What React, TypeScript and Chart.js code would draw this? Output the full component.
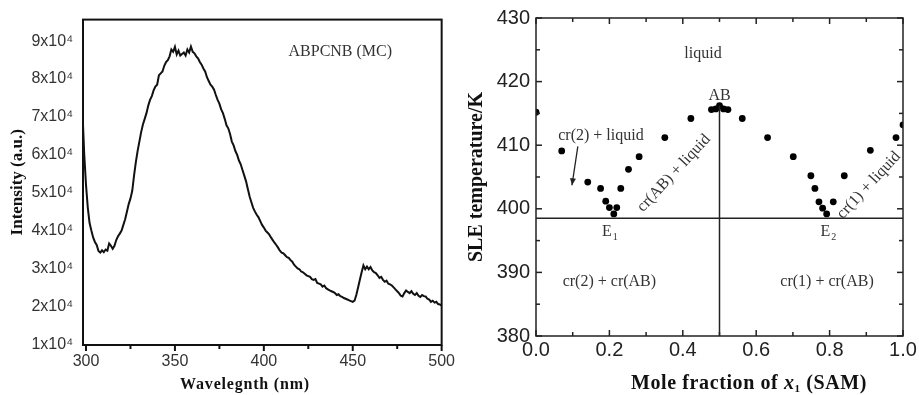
import React, { useEffect, useRef } from "react";
import { Chart, registerables } from "chart.js";

Chart.register(...registerables);

const SERIF = "'Liberation Serif', 'Times New Roman', serif";
const SANS = "'Liberation Sans', Arial, sans-serif";

// ---------- Left panel: emission spectrum ----------
const wavelengthNm = [
  298.3, 299, 300, 301, 302, 303, 304, 305, 306, 307, 308, 309, 310, 311, 312, 313, 314, 315, 316, 317, 318, 319,
  320, 321, 322, 323, 324, 325, 326, 327, 328, 329, 330, 331, 332, 333, 334, 335, 336, 337, 338, 339,
  340, 341, 342, 343, 344, 345, 346, 347, 348, 349, 350, 351, 352, 353, 354, 355, 356, 357, 358, 359,
  360, 361, 362, 363, 364, 365, 366, 367, 368, 369, 370, 371, 372, 373, 374, 375, 376, 377, 378, 379,
  380, 381, 382, 383, 384, 385, 386, 387, 388, 389, 390, 391, 392, 393, 394, 395, 396, 397, 398, 399,
  400, 401, 402, 403, 404, 405, 406, 407, 408, 409, 410, 411, 412, 413, 414, 415, 416, 417, 418, 419,
  420, 421, 422, 423, 424, 425, 426, 427, 428, 429, 430, 431, 432, 433, 434, 435, 436, 437, 438, 439,
  440, 441, 442, 443, 444, 445, 446, 447, 448, 449, 450, 451, 452, 453, 454, 455, 456, 457, 458, 459,
  460, 461, 462, 463, 464, 465, 466, 467, 468, 469, 470, 471, 472, 473, 474, 475, 476, 477, 478, 479,
  480, 481, 482, 483, 484, 485, 486, 487, 488, 489, 490, 491, 492, 493, 494, 495, 496, 497, 498, 499, 500,
];
const intensityAU = [
  68000, 60000, 52000, 46000, 42000, 40000, 38200, 37000, 36200, 34600, 34200, 34800, 34300, 35000, 34700, 36600, 36000, 35200, 36000, 37500, 38500, 39200,
  40000, 41500, 43000, 45000, 47000, 48500, 50500, 54500, 58000, 61000, 63500, 66000, 68000, 69500, 71000, 73000, 74500, 75500, 77000, 78000,
  78500, 81000, 81500, 82000, 83500, 84500, 85000, 86000, 87800, 87200, 88500, 86500, 87500, 86200, 86600, 87000, 86200, 87800, 87000, 88600,
  87200, 86800, 86000, 85500, 84500, 83800, 82800, 82000, 80500, 79500, 78500, 78000, 77200, 75800, 74500, 73500, 72000, 71000, 69500, 67800,
  67000, 65500, 63500, 62500, 61000, 60000, 58500, 57500, 56000, 54500, 53000, 51000, 49000, 47500, 46000, 45000, 44200, 43500, 42500, 41500,
  40800, 40000, 39500, 39000, 38200, 37500, 36800, 36200, 35500, 34700, 34200, 34000, 33500, 33000, 32800, 32200, 31800, 31000, 30500, 30000,
  29800, 29200, 29000, 28600, 28200, 28000, 27800, 27200, 27000, 27200, 26200, 26000, 25800, 25200, 25500, 24800, 24500, 24200, 24000, 23800,
  23500, 23000, 23200, 22700, 22500, 22200, 22000, 21800, 21600, 21400, 21200, 21500, 23000, 25000, 27000, 29000, 30800, 29800, 30500, 29800,
  30400, 29500, 29000, 28800, 28200, 27500, 27800, 27000, 26500, 26800, 26000, 25800, 25500, 25000, 24500, 24000, 23500, 22800, 22600, 23500,
  24200, 23800, 23500, 24000, 23300, 23000, 23500, 22800, 22500, 23000, 22700, 22600, 22000, 21800, 21200, 21500, 21000, 21200, 20600, 20500, 20200,
];
const intensityTicks = [10000, 20000, 30000, 40000, 50000, 60000, 70000, 80000, 90000];
const wavelengthTicks = [300, 350, 400, 450, 500];
const wavelengthMinorTicks = [325, 375, 425, 475];
const spectrumLabel = { text: "ABPCNB (MC)", x: 443, y: 87300 };

// ---------- Right panel: SLE phase diagram ----------
const moleFraction = [
  0.0, 0.07, 0.141, 0.176, 0.19, 0.2, 0.212, 0.22, 0.231, 0.252, 0.281, 0.351, 0.422,
  0.478, 0.49, 0.5, 0.511, 0.523,
  0.562, 0.631, 0.701, 0.749, 0.76, 0.771, 0.781, 0.792, 0.81, 0.84, 0.911, 0.981, 1.0,
];
const sleTemperature = [
  415.2, 409.1, 404.2, 403.2, 401.2, 400.2, 399.2, 400.2, 403.2, 406.2, 408.2, 411.2, 414.2,
  415.6, 415.7, 416.2, 415.7, 415.6,
  414.2, 411.2, 408.2, 405.2, 403.2, 401.1, 400.1, 399.2, 401.1, 405.2, 409.2, 411.2, 413.2,
];
const eutecticLineX = [0, 1];
const eutecticLineT = [398.5, 398.5];
const compoundLineX = [0.5, 0.5];
const compoundLineT = [380, 416.2];
const arrowX = [0.114, 0.098];
const arrowT = [409.8, 403.7];
const moleTicks = [0, 0.2, 0.4, 0.6, 0.8, 1.0];
const moleMinorTicks = [0.1, 0.3, 0.5, 0.7, 0.9];
const tempTicks = [380, 390, 400, 410, 420, 430];
const tempMinorTicks = [385, 395, 405, 415, 425];
const regionLabels = [
  { text: "liquid", x: 0.455, y: 424.4 },
  { text: "AB", x: 0.5, y: 417.8 },
  { text: "cr(2) + liquid", x: 0.177, y: 411.4 },
  { text: "cr(AB) + liquid", x: 0.376, y: 405.6, angle: -47 },
  { text: "cr(1) + liquid", x: 0.907, y: 403.7, angle: -47 },
  { text: "E", sub: "1", x: 0.2, y: 396.4 },
  { text: "E", sub: "2", x: 0.795, y: 396.4 },
  { text: "cr(2) + cr(AB)", x: 0.2, y: 388.6 },
  { text: "cr(1) + cr(AB)", x: 0.793, y: 388.6 },
];

const pts = (xs: number[], ys: number[]) => xs.map((x, i) => ({ x, y: ys[i] }));

const framePlugin = {
  id: "frame",
  afterDatasetsDraw(chart: any, _args: any, opts: any) {
    const { ctx, chartArea: a, scales } = chart;
    const xs = scales.x;
    const ys = scales.y;
    ctx.save();
    ctx.strokeStyle = opts.color;
    ctx.lineWidth = opts.lineWidth;
    ctx.strokeRect(a.left, a.top, a.right - a.left, a.bottom - a.top);
    const dir = opts.inward ? -1 : 1;
    const sides: string[] = opts.sides;
    const seg = (x1: number, y1: number, x2: number, y2: number) => {
      ctx.beginPath();
      ctx.moveTo(x1, y1);
      ctx.lineTo(x2, y2);
      ctx.stroke();
    };
    const drawX = (vals: number[], len: number) =>
      vals.forEach((v) => {
        const px = xs.getPixelForValue(v);
        if (sides.includes("bottom")) seg(px, a.bottom, px, a.bottom + dir * len);
        if (sides.includes("top")) seg(px, a.top, px, a.top - dir * len);
      });
    const drawY = (vals: number[], len: number) =>
      vals.forEach((v) => {
        const py = ys.getPixelForValue(v);
        if (sides.includes("left")) seg(a.left, py, a.left - dir * len, py);
        if (sides.includes("right")) seg(a.right, py, a.right + dir * len, py);
      });
    drawX(opts.xMajor || [], opts.majorLen);
    drawX(opts.xMinor || [], opts.minorLen);
    drawY(opts.yMajor || [], opts.majorLen);
    drawY(opts.yMinor || [], opts.minorLen);
    ctx.restore();
  },
};

const notesPlugin = {
  id: "notes",
  afterDatasetsDraw(chart: any, _args: any, opts: any) {
    const { ctx, scales } = chart;
    const size = opts.size;
    (opts.items || []).forEach((n: any) => {
      const x = scales.x.getPixelForValue(n.x);
      const y = scales.y.getPixelForValue(n.y);
      ctx.save();
      ctx.translate(x, y);
      if (n.angle) ctx.rotate((n.angle * Math.PI) / 180);
      ctx.fillStyle = opts.color;
      ctx.textBaseline = "middle";
      const mainFont = `${size}px ${SERIF}`;
      const subFont = `${Math.round(size * 0.62)}px ${SERIF}`;
      if (n.sub) {
        ctx.font = mainFont;
        const w1 = ctx.measureText(n.text).width;
        ctx.font = subFont;
        const w2 = ctx.measureText(n.sub).width;
        const start = -(w1 + w2) / 2;
        ctx.textAlign = "left";
        ctx.font = mainFont;
        ctx.fillText(n.text, start, 0);
        ctx.font = subFont;
        ctx.fillText(n.sub, start + w1 + 1, size * 0.35);
      } else {
        ctx.font = mainFont;
        ctx.textAlign = "center";
        ctx.fillText(n.text, 0, 0);
      }
      ctx.restore();
    });
  },
};

const arrowPlugin = {
  id: "arrowHead",
  afterDatasetsDraw(chart: any, _args: any, opts: any) {
    if (!opts.from) return;
    const { ctx, scales } = chart;
    const x1 = scales.x.getPixelForValue(opts.from[0]);
    const y1 = scales.y.getPixelForValue(opts.from[1]);
    const x2 = scales.x.getPixelForValue(opts.to[0]);
    const y2 = scales.y.getPixelForValue(opts.to[1]);
    const ang = Math.atan2(y2 - y1, x2 - x1);
    const L = 7;
    const W = 3;
    ctx.save();
    ctx.fillStyle = opts.color;
    ctx.beginPath();
    ctx.moveTo(x2, y2);
    ctx.lineTo(x2 - L * Math.cos(ang) + W * Math.sin(ang), y2 - L * Math.sin(ang) - W * Math.cos(ang));
    ctx.lineTo(x2 - L * Math.cos(ang) - W * Math.sin(ang), y2 - L * Math.sin(ang) + W * Math.cos(ang));
    ctx.closePath();
    ctx.fill();
    ctx.restore();
  },
};

const richTitlePlugin = {
  id: "richTitle",
  afterDraw(chart: any, _args: any, opts: any) {
    if (!opts.segments) return;
    const { ctx } = chart;
    ctx.save();
    ctx.fillStyle = opts.color;
    ctx.textBaseline = "middle";
    ctx.textAlign = "left";
    (ctx as any).letterSpacing = `${opts.spacing || 0}px`;
    const fontOf = (s: any) => `${s.italic ? "italic " : ""}bold ${s.size || opts.size}px ${SERIF}`;
    let total = 0;
    const widths = opts.segments.map((s: any) => {
      ctx.font = fontOf(s);
      const w = ctx.measureText(s.text).width;
      total += w;
      return w;
    });
    let x = opts.cx - total / 2;
    opts.segments.forEach((s: any, i: number) => {
      ctx.font = fontOf(s);
      ctx.fillText(s.text, x, opts.cy + (s.dy || 0));
      x += widths[i];
    });
    ctx.restore();
  },
};

function SpectrumChart() {
  const ref = useRef<HTMLCanvasElement | null>(null);
  useEffect(() => {
    if (!ref.current) return;
    const chart = new Chart(ref.current, {
      type: "line",
      data: {
        datasets: [
          {
            data: pts(wavelengthNm, intensityAU),
            borderColor: "#111",
            borderWidth: 2,
            pointRadius: 0,
            tension: 0,
            fill: false,
            clip: 0,
          } as any,
        ],
      },
      options: {
        animation: false,
        responsive: false,
        maintainAspectRatio: false,
        layout: { padding: { top: 17, right: 15, left: 0, bottom: 0 } },
        plugins: {
          legend: { display: false },
          tooltip: { enabled: false },
          frame: {
            color: "#111",
            lineWidth: 2,
            inward: false,
            sides: ["bottom"],
            xMajor: wavelengthTicks,
            xMinor: wavelengthMinorTicks,
            majorLen: 6,
            minorLen: 4,
          },
          notes: {
            size: 16,
            color: "#333",
            items: [spectrumLabel],
          },
          richTitle: {
            cx: 245,
            cy: 385,
            size: 16,
            spacing: 0.8,
            color: "#111",
            segments: [{ text: "Wavelegnth (nm)" }],
          },
        } as any,
        scales: {
          x: {
            type: "linear",
            min: 298.3,
            max: 500,
            afterBuildTicks: (s: any) => {
              s.ticks = wavelengthTicks.map((v) => ({ value: v }));
            },
            afterFit: (s: any) => {
              s.height = 50;
            },
            grid: { display: false, drawTicks: false },
            border: { display: false },
            ticks: {
              autoSkip: false,
              maxRotation: 0,
              padding: 7,
              color: "#333",
              font: { family: SANS, size: 16 },
            },
          },
          y: {
            type: "linear",
            min: 9800,
            max: 95700,
            afterBuildTicks: (s: any) => {
              s.ticks = intensityTicks.map((v) => ({ value: v }));
            },
            afterFit: (s: any) => {
              s.width = 83;
            },
            grid: { display: false, drawTicks: false },
            border: { display: false },
            ticks: {
              autoSkip: false,
              padding: 10,
              color: "#333",
              font: { family: SANS, size: 16 },
              callback: (v: any) => `${Number(v) / 10000}x10\u2074`,
            },
            title: {
              display: true,
              text: "Intensity (a.u.)",
              color: "#111",
              padding: { top: 7, bottom: 0 },
              font: { family: SERIF, size: 17, weight: "bold" },
            },
          },
        },
      },
      plugins: [framePlugin, notesPlugin, richTitlePlugin],
    } as any);
    return () => chart.destroy();
  }, []);
  return <canvas ref={ref} width={462} height={395} style={{ position: "absolute", left: 0, top: 0 }} />;
}

function PhaseChart() {
  const ref = useRef<HTMLCanvasElement | null>(null);
  useEffect(() => {
    if (!ref.current) return;
    const chart = new Chart(ref.current, {
      type: "scatter",
      data: {
        datasets: [
          {
            data: pts(eutecticLineX, eutecticLineT),
            showLine: true,
            borderColor: "#222",
            borderWidth: 1.5,
            pointRadius: 0,
            clip: 0,
          },
          {
            data: pts(compoundLineX, compoundLineT),
            showLine: true,
            borderColor: "#222",
            borderWidth: 1.5,
            pointRadius: 0,
            clip: 0,
          },
          {
            data: pts(arrowX, arrowT),
            showLine: true,
            borderColor: "#222",
            borderWidth: 1.3,
            pointRadius: 0,
            clip: 0,
          },
          {
            data: pts(moleFraction, sleTemperature),
            showLine: false,
            backgroundColor: "#000",
            borderColor: "#000",
            borderWidth: 0,
            pointRadius: 3.4,
            clip: 0,
          },
        ] as any,
      },
      options: {
        animation: false,
        responsive: false,
        maintainAspectRatio: false,
        layout: { padding: { top: 17, right: 16, left: 0, bottom: 0 } },
        plugins: {
          legend: { display: false },
          tooltip: { enabled: false },
          frame: {
            color: "#222",
            lineWidth: 1.5,
            inward: true,
            sides: ["bottom", "top", "left", "right"],
            xMajor: moleTicks,
            xMinor: moleMinorTicks,
            yMajor: tempTicks,
            yMinor: tempMinorTicks,
            majorLen: 6,
            minorLen: 4,
          },
          notes: { size: 16, color: "#333", items: regionLabels },
          arrowHead: {
            from: [arrowX[0], arrowT[0]],
            to: [arrowX[1], arrowT[1]],
            color: "#222",
          },
          richTitle: {
            cx: 287,
            cy: 384,
            size: 20,
            spacing: 0.6,
            color: "#111",
            segments: [
              { text: "Mole fraction of " },
              { text: "x", italic: true },
              { text: "1", size: 11, dy: 5 },
              { text: " (SAM)" },
            ],
          },
        } as any,
        scales: {
          x: {
            type: "linear",
            min: 0,
            max: 1,
            afterBuildTicks: (s: any) => {
              s.ticks = moleTicks.map((v) => ({ value: v }));
            },
            afterFit: (s: any) => {
              s.height = 59;
            },
            grid: { display: false, drawTicks: false },
            border: { display: false },
            ticks: {
              autoSkip: false,
              maxRotation: 0,
              padding: 2,
              color: "#222",
              font: { family: SANS, size: 20 },
              callback: (v: any) => Number(v).toFixed(1),
            },
          },
          y: {
            type: "linear",
            min: 380,
            max: 430,
            afterBuildTicks: (s: any) => {
              s.ticks = tempTicks.map((v) => ({ value: v }));
            },
            afterFit: (s: any) => {
              s.width = 74;
            },
            grid: { display: false, drawTicks: false },
            border: { display: false },
            ticks: {
              autoSkip: false,
              padding: 6,
              color: "#222",
              font: { family: SANS, size: 20 },
            },
            title: {
              display: true,
              text: "SLE temperature/K",
              color: "#111",
              padding: { top: 3, bottom: 0 },
              font: { family: SERIF, size: 20, weight: "bold" },
            },
          },
        },
      },
      plugins: [framePlugin, notesPlugin, arrowPlugin, richTitlePlugin],
    } as any);
    return () => chart.destroy();
  }, []);
  return <canvas ref={ref} width={457} height={395} style={{ position: "absolute", left: 462, top: 0 }} />;
}

export default function App() {
  return (
    <div style={{ position: "absolute", left: 0, top: 0, width: 919, height: 395, background: "#fff", overflow: "hidden" }}>
      <SpectrumChart />
      <PhaseChart />
    </div>
  );
}
